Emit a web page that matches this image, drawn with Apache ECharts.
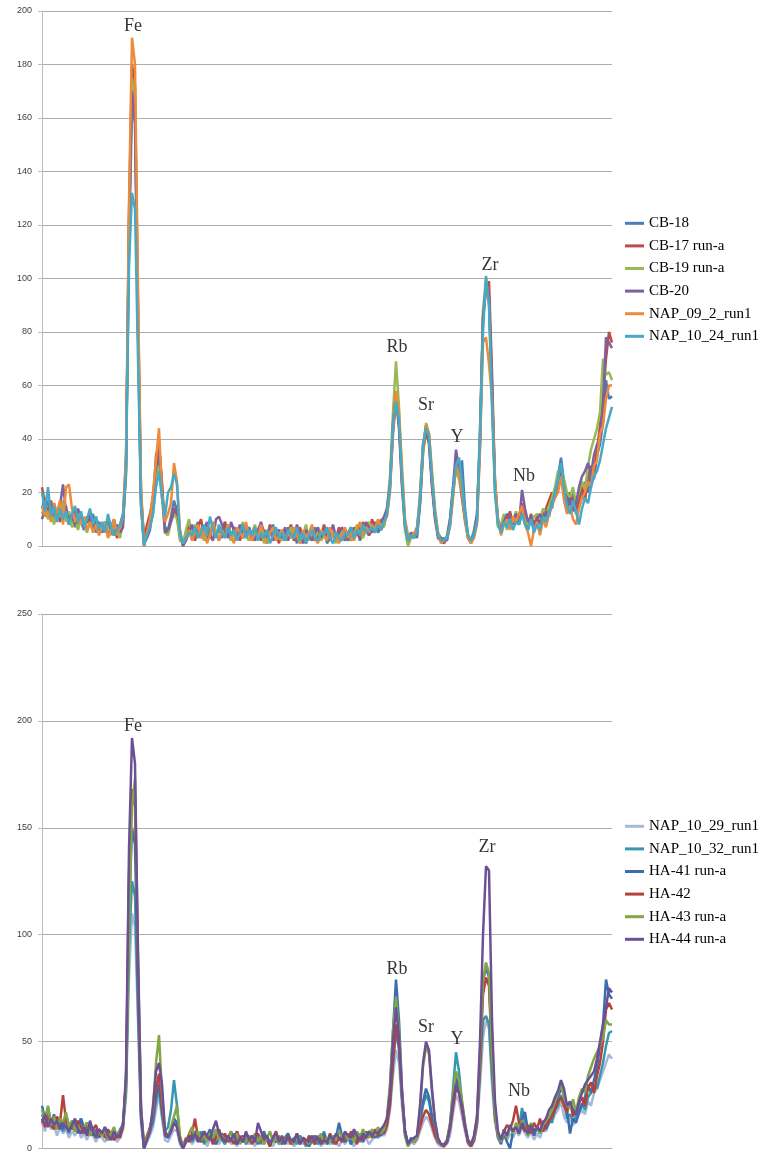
<!DOCTYPE html>
<html>
<head>
<meta charset="utf-8">
<script src="https://cdn.jsdelivr.net/npm/echarts@6/dist/echarts.min.js"></script>
<style>
  html, body { margin: 0; padding: 0; background: #ffffff; }
  #chart { width: 760px; height: 1153px; }
</style>
</head>
<body>
<div id="chart"></div>
<script>
// XRF spectra: counts per channel (191 channels), two groups of samples.

const upperNames = ['CB-18', 'CB-17 run-a', 'CB-19 run-a', 'CB-20', 'NAP_09_2_run1', 'NAP_10_24_run1'];
const lowerNames = ['NAP_10_29_run1', 'NAP_10_32_run1', 'HA-41 run-a', 'HA-42', 'HA-43 run-a', 'HA-44 run-a'];

// Element peak labels and where they sit (channel, counts)
const peakNames = ['Fe', 'Rb', 'Sr', 'Y', 'Zr', 'Nb'];
const upperPeakChannel = [30.3, 118.3, 128, 138.3, 149.3, 160.7];
const upperPeakLevel = [194.4, 74.4, 52.7, 40.7, 105, 26.2];
const lowerPeakChannel = [30.3, 118.3, 128, 138.3, 148.3, 159];
const lowerPeakLevel = [197.7, 83.6, 56.5, 50.9, 140.7, 26.6];

// Axis ranges
const upperMax = 200, upperStep = 20;
const lowerMax = 250, lowerStep = 50;

const cb18 = [
  14,18,11,15,9,13,16,10,12,8,
  11,7,13,9,6,10,8,12,5,9,
  6,8,4,7,10,5,8,12,32,110,
  165,158,82,18,3,6,9,14,26,35,
  20,7,6,11,17,13,3,1,4,7,
  3,6,9,4,7,2,5,8,4,6,
  3,9,5,2,7,4,6,3,8,5,
  2,6,4,7,3,1,5,8,3,6,
  4,2,7,3,5,1,6,4,2,5,
  3,7,2,4,6,1,3,5,2,6,
  4,2,5,7,3,6,2,5,8,4,
  6,9,5,7,10,13,24,44,56,48,
  26,9,3,5,4,7,17,36,44,39,
  24,11,4,2,3,2,8,19,30,26,
  32,14,4,2,5,11,42,84,98,92,
  58,22,9,6,10,7,12,8,11,9,
  14,9,6,11,7,10,8,13,11,16,
  14,21,26,33,24,18,14,20,12,15,
  19,24,20,28,25,34,38,46,62,55,
  56
];
const cb17 = [
  22,16,12,17,10,14,9,12,15,8,
  10,13,8,11,7,9,12,6,8,5,
  7,9,4,6,8,3,6,10,28,125,
  180,172,90,20,2,8,12,18,30,38,
  24,6,5,10,14,11,4,0,3,8,
  5,2,7,10,4,6,3,8,5,2,
  6,9,4,3,7,5,2,8,4,6,
  3,7,5,2,6,4,8,3,5,1,
  6,3,5,8,2,4,7,3,1,5,
  4,2,6,3,8,4,2,5,3,7,
  3,6,4,2,7,5,3,9,6,4,
  10,7,9,6,8,12,22,42,55,44,
  22,7,2,4,3,6,16,35,43,38,
  22,10,3,2,1,3,9,20,31,27,
  20,11,3,1,4,10,38,86,95,99,
  65,24,8,7,11,9,13,8,12,10,
  16,10,7,12,8,11,9,12,14,17,
  20,18,24,30,22,17,20,16,13,18,
  22,17,26,30,28,36,45,55,70,80,
  76
];
const cb19 = [
  12,15,10,13,8,14,11,17,9,13,
  7,10,6,11,8,5,9,7,11,6,
  8,5,9,4,7,6,3,9,26,118,
  175,165,88,16,0,4,7,12,24,30,
  18,5,4,9,12,10,2,1,6,10,
  4,8,3,6,2,7,5,9,4,3,
  7,4,8,2,5,3,6,9,4,2,
  5,8,3,6,1,4,7,2,5,3,
  2,6,4,7,3,5,1,4,8,2,
  5,3,6,2,4,7,3,5,1,4,
  6,3,5,2,4,8,5,3,6,9,
  7,5,8,10,7,14,26,50,69,52,
  24,6,0,3,5,4,15,34,46,42,
  28,14,5,3,2,4,10,22,28,25,
  18,9,3,2,6,12,44,88,100,90,
  56,20,7,8,12,6,10,9,13,8,
  12,10,8,9,11,12,10,14,12,15,
  18,22,28,29,25,20,18,22,16,20,
  24,21,30,36,40,44,50,70,64,65,
  62
];
const cb20 = [
  10,14,17,12,16,11,15,23,13,10,
  12,8,14,10,7,11,9,6,10,8,
  5,7,10,6,4,8,5,7,30,120,
  170,160,80,15,1,3,6,16,34,38,
  22,5,6,9,13,15,6,0,2,5,
  8,4,7,3,6,9,4,2,10,11,
  8,5,3,9,6,4,8,3,5,7,
  4,2,6,9,5,3,7,2,4,6,
  3,7,2,5,4,8,3,1,6,4,
  2,5,7,3,6,2,4,8,3,5,
  7,4,2,6,3,5,8,4,9,7,
  5,8,6,9,11,14,23,46,57,45,
  24,8,2,4,5,3,16,37,45,40,
  23,12,4,3,2,3,10,22,36,29,
  18,10,4,2,5,12,40,85,98,93,
  60,23,10,6,9,12,11,10,12,8,
  21,14,9,11,7,10,12,9,13,11,
  16,19,22,27,20,15,18,13,16,22,
  26,28,31,27,34,38,40,52,78,76,
  74
];
const nap09 = [
  15,11,13,9,16,12,17,8,22,23,
  14,9,12,8,11,6,9,5,8,4,
  7,9,3,6,10,4,7,11,34,128,
  190,180,96,22,0,5,10,20,32,44,
  20,9,12,16,31,24,5,1,3,6,
  2,5,8,3,6,1,4,9,5,2,
  6,3,8,4,1,7,5,3,9,4,
  2,6,3,8,4,1,5,7,2,4,
  6,2,5,3,7,4,1,6,3,5,
  8,3,1,6,4,2,7,3,5,1,
  4,7,3,5,2,6,9,4,7,5,
  8,6,10,7,9,11,20,44,58,50,
  30,10,4,3,5,6,20,38,45,42,
  27,13,5,1,2,3,7,18,30,27,
  20,10,3,1,3,8,36,76,78,68,
  55,25,10,4,8,10,6,11,9,12,
  15,8,5,0,6,9,4,10,7,12,
  15,18,20,26,17,12,15,10,8,14,
  18,20,24,22,30,32,42,45,55,60,
  60
];
const nap1024 = [
  20,13,22,11,15,9,14,10,13,8,
  12,15,9,13,7,10,14,8,11,6,
  9,5,12,7,4,6,8,10,28,105,
  132,126,70,16,0,4,7,12,22,28,
  18,11,20,22,27,23,4,1,3,5,
  4,7,3,5,8,4,11,6,3,8,
  5,3,7,4,6,2,5,8,3,6,
  4,7,2,5,3,6,1,4,7,3,
  5,2,6,4,3,7,2,5,1,4,
  6,3,2,5,4,7,3,1,5,3,
  2,5,4,7,3,6,4,8,5,6,
  7,5,8,6,9,12,22,45,54,47,
  25,8,2,4,3,5,18,38,44,41,
  25,12,4,2,2,3,8,21,30,33,
  24,12,4,2,4,9,40,80,101,90,
  52,20,8,5,9,7,10,6,9,8,
  12,8,6,10,5,8,6,11,9,13,
  15,20,25,31,22,15,12,17,13,8,
  14,18,16,22,26,28,32,38,44,48,
  52
];

const nap1029 = [
  12,8,14,9,11,6,10,7,9,5,
  8,6,10,5,7,4,8,6,3,7,
  5,3,6,4,7,3,5,9,24,80,
  110,104,60,12,0,3,6,10,18,25,
  14,4,3,6,9,8,2,0,3,5,
  2,4,7,3,5,1,4,6,3,2,
  5,3,6,2,4,1,5,3,6,2,
  4,1,5,3,2,6,3,1,4,2,
  3,5,2,4,1,3,6,2,4,1,
  3,2,5,1,4,3,2,6,3,1,
  4,2,5,3,1,4,6,3,5,2,
  4,6,5,7,6,9,18,34,46,40,
  20,6,1,3,2,4,8,12,15,13,
  9,5,2,1,2,2,6,16,25,22,
  15,8,2,1,3,10,30,52,60,56,
  30,12,5,3,6,4,7,5,8,6,
  10,7,5,8,4,7,5,9,8,12,
  13,16,18,22,15,12,14,11,13,16,
  18,16,22,20,26,28,32,36,40,44,
  42
];
const nap1032 = [
  16,12,18,10,14,9,12,8,11,7,
  13,9,11,14,8,12,7,10,6,9,
  7,10,5,8,4,6,9,11,26,95,
  125,118,65,14,0,4,8,12,22,28,
  16,8,10,18,32,20,4,1,4,6,
  3,6,4,8,2,5,7,3,6,9,
  4,2,6,3,5,8,3,6,2,4,
  6,3,5,2,7,4,2,5,3,6,
  2,4,7,3,5,2,6,4,1,5,
  3,6,2,4,8,3,5,2,6,4,
  5,3,7,2,4,6,3,8,5,7,
  6,8,5,9,7,12,22,40,55,46,
  24,8,2,4,3,5,12,20,25,22,
  14,7,3,2,1,3,10,28,45,36,
  22,11,3,1,4,12,36,60,62,58,
  34,14,7,4,8,6,10,8,11,9,
  19,12,8,10,6,11,8,12,10,14,
  12,18,20,25,22,14,16,13,15,19,
  21,18,24,26,30,28,34,40,48,54,
  55
];
const ha41 = [
  20,14,19,12,16,10,13,9,15,11,
  9,12,7,14,10,8,11,6,9,5,
  8,6,4,7,9,5,7,12,30,110,
  150,142,75,16,1,5,9,14,25,30,
  18,6,5,9,14,12,3,0,4,6,
  5,8,4,7,3,6,9,4,2,5,
  7,3,5,8,4,2,6,3,7,5,
  3,6,2,5,8,4,1,6,3,5,
  2,5,7,3,4,6,2,5,3,1,
  4,6,3,5,7,2,4,3,5,12,
  6,3,5,2,7,4,6,3,8,6,
  8,5,7,6,9,13,28,55,79,60,
  28,8,2,5,3,6,14,22,28,24,
  15,8,3,2,1,4,11,22,33,29,
  20,10,3,1,5,14,42,78,85,80,
  45,16,5,2,7,3,0,8,10,7,
  14,17,8,11,6,10,7,13,9,12,
  16,20,24,28,26,18,7,14,12,17,
  20,24,30,26,32,38,48,58,79,72,
  70
];
const ha42 = [
  14,10,16,11,9,15,12,25,13,9,
  11,8,13,10,7,12,6,9,11,6,
  8,5,9,6,4,7,5,10,32,128,
  168,160,85,18,2,6,10,16,28,35,
  20,7,6,8,12,10,4,1,5,3,
  7,14,5,3,8,4,6,2,5,9,
  4,7,3,5,2,8,4,6,3,5,
  2,5,7,3,6,4,1,5,8,3,
  6,3,5,2,4,7,3,5,2,6,
  4,2,6,3,5,3,7,4,2,5,
  3,6,4,8,5,2,7,4,6,8,
  5,9,6,8,7,11,20,40,58,48,
  24,7,2,4,3,5,10,15,18,16,
  11,6,3,2,1,3,9,19,28,26,
  18,10,3,1,4,12,38,72,80,76,
  42,15,6,4,8,11,9,13,20,12,
  10,8,11,7,12,9,14,8,11,13,
  15,18,22,24,20,17,22,15,18,21,
  24,20,28,31,26,34,40,50,65,68,
  65
];
const ha43 = [
  18,13,20,11,15,9,14,12,17,10,
  13,8,11,7,10,12,6,9,5,8,
  6,9,4,7,10,5,8,11,28,100,
  160,173,92,20,1,5,9,18,40,53,
  26,8,6,10,15,20,6,1,3,7,
  10,5,8,4,6,3,7,5,9,4,
  6,3,5,8,4,7,2,5,3,6,
  4,7,3,6,2,5,8,3,5,2,
  5,3,6,4,2,7,3,5,4,2,
  6,3,4,7,2,5,3,6,4,8,
  5,7,4,6,3,8,5,9,6,5,
  9,6,10,7,9,15,30,55,71,55,
  26,6,1,4,3,5,18,38,48,44,
  26,12,4,2,2,4,12,26,36,32,
  22,12,4,2,5,14,45,78,87,82,
  44,16,6,3,8,5,10,7,12,9,
  13,10,6,12,8,10,7,11,13,15,
  18,22,26,30,24,20,19,23,17,24,
  28,26,34,38,42,45,48,52,60,58,
  58
];
const ha44 = [
  12,16,10,14,11,13,9,12,10,8,
  11,14,9,7,10,6,13,8,5,9,
  7,10,6,4,8,5,7,11,35,140,
  192,180,90,18,0,4,8,20,36,40,
  30,8,5,8,12,10,4,0,3,6,
  4,7,3,5,8,6,4,9,13,7,
  5,3,6,4,7,2,5,3,8,4,
  6,3,12,8,4,6,2,5,7,3,
  5,2,6,4,3,7,2,5,4,3,
  6,3,5,2,4,3,6,4,7,5,
  4,8,6,5,9,6,4,7,5,8,
  6,8,7,9,11,14,26,50,66,52,
  26,8,2,4,5,6,20,40,50,46,
  28,13,5,2,2,3,10,22,30,26,
  20,11,4,2,6,15,50,100,132,130,
  60,22,8,4,9,6,11,8,10,7,
  12,9,7,11,8,10,8,12,14,18,
  20,24,27,32,28,20,22,18,16,22,
  26,30,32,34,36,42,50,58,66,75,
  73
];

const upperData = [cb18, cb17, cb19, cb20, nap09, nap1024];
const lowerData = [nap1029, nap1032, ha41, ha42, ha43, ha44];
const upperColors = ['#4A7EBB', '#BE4B48', '#98B954', '#7D60A0', '#EE8A3A', '#46AAC5'];
const lowerColors = ['#A5BADB', '#3598AF', '#3C6DB0', '#B7403D', '#80A646', '#6C5095'];

const channelCount = cb18.length;

function spectrum(name, values, color, g) {
  return {
    type: 'line', name: name, xAxisIndex: g, yAxisIndex: g,
    data: values.map((v, i) => [i, v]),
    symbol: 'none', showSymbol: false,
    lineStyle: { width: 2.5, color: color },
    itemStyle: { color: color },
    silent: true, animation: false
  };
}

function peakLabels(channels, levels, g) {
  return {
    type: 'scatter', xAxisIndex: g, yAxisIndex: g,
    symbolSize: 1, itemStyle: { color: 'rgba(0,0,0,0)' },
    data: peakNames.map((n, k) => ({ name: n, value: [channels[k], levels[k]] })),
    label: {
      show: true, position: 'inside', formatter: '{b}',
      fontFamily: '"Liberation Serif", "Times New Roman", serif',
      fontSize: 18, color: '#000000'
    },
    silent: true, animation: false, z: 5
  };
}

function yAxis(g, max, step) {
  return {
    gridIndex: g, type: 'value', min: 0, max: max, interval: step,
    axisLine: { show: true, lineStyle: { color: '#BDBDBD', width: 1 } },
    axisTick: { show: true, length: 4, lineStyle: { color: '#BDBDBD' } },
    axisLabel: { fontFamily: '"Liberation Sans", Arial, sans-serif', fontSize: 9, color: '#404040', margin: 10 },
    splitLine: { show: true, lineStyle: { color: '#ADADAD', width: 1 } }
  };
}

function xAxis(g) {
  return {
    gridIndex: g, type: 'value', min: 0, max: channelCount - 1,
    axisLine: { show: true, lineStyle: { color: '#ADADAD', width: 1 } },
    axisTick: { show: false }, axisLabel: { show: false }, splitLine: { show: false }
  };
}

function legend(names, colors, top) {
  return {
    data: names.map((n, k) => ({ name: n, icon: 'rect', itemStyle: { color: colors[k] } })),
    orient: 'vertical', left: 625, top: top, padding: 0,
    itemWidth: 19, itemHeight: 3, itemGap: 0,
    textStyle: { fontFamily: '"Liberation Serif", "Times New Roman", serif', fontSize: 15, color: '#000000', lineHeight: 22.6 },
    selectedMode: false
  };
}

const series = [];
upperNames.forEach((n, k) => series.push(spectrum(n, upperData[k], upperColors[k], 0)));
lowerNames.forEach((n, k) => series.push(spectrum(n, lowerData[k], lowerColors[k], 1)));
series.push(peakLabels(upperPeakChannel, upperPeakLevel, 0));
series.push(peakLabels(lowerPeakChannel, lowerPeakLevel, 1));

const chart = echarts.init(document.getElementById('chart'), null, { renderer: 'canvas' });
chart.setOption({
  backgroundColor: '#ffffff',
  animation: false,
  grid: [
    { left: 42, top: 11, width: 570, height: 535 },
    { left: 42, top: 614, width: 570, height: 535 }
  ],
  xAxis: [xAxis(0), xAxis(1)],
  yAxis: [yAxis(0, upperMax, upperStep), yAxis(1, lowerMax, lowerStep)],
  legend: [legend(upperNames, upperColors, 212), legend(lowerNames, lowerColors, 815)],
  series: series
});
</script>
</body>
</html>
